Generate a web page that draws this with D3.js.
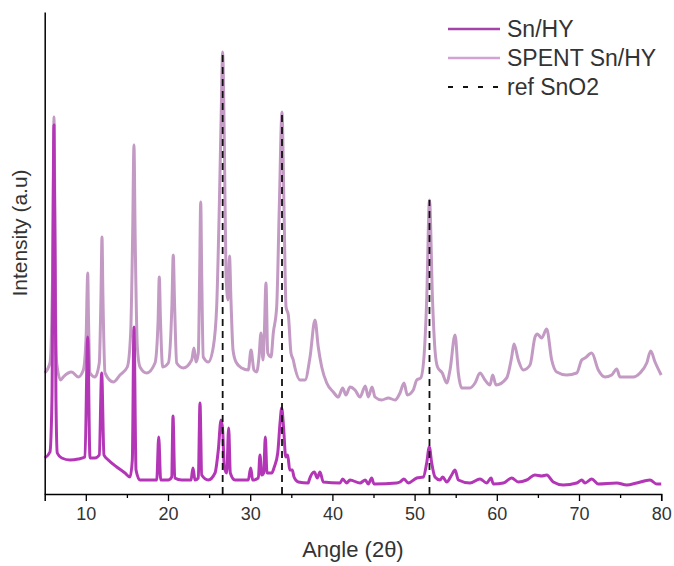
<!DOCTYPE html>
<html><head><meta charset="utf-8">
<script src="https://cdn.jsdelivr.net/npm/d3@7"></script>
<style>
html,body{margin:0;padding:0;background:#fff;}
svg{display:block;font-family:"Liberation Sans",Arial,sans-serif;}
</style></head>
<body>
<svg id="chart" width="674" height="566"></svg>
<script>
// Angle (2θ) and intensity (a.u.)
const spentAngle = [5.0,5.64,5.85,5.95,6.05,6.13,6.22,6.34,6.46,6.95,7.26,8.28,9.09,9.70,10.05,10.15,10.23,10.33,10.51,11.12,11.64,11.85,11.97,12.08,12.34,13.35,14.16,15.05,15.46,15.70,15.86,16.0,16.27,16.59,17.41,18.42,18.80,18.94,19.08,19.36,20.04,20.48,20.64,20.80,21.06,21.86,22.88,23.16,23.41,23.69,23.85,23.98,24.10,24.29,24.90,25.51,25.92,26.24,26.45,26.65,26.85,27.06,27.30,27.48,27.66,27.91,28.27,28.97,29.77,30.10,30.46,30.79,31.07,31.31,31.56,31.72,31.92,32.13,32.53,32.81,33.22,33.54,33.87,34.11,34.36,34.64,34.96,35.24,35.45,36.06,36.67,37.28,37.88,38.28,38.70,39.31,40.11,40.72,41.25,41.65,42.14,42.75,43.36,44.00,44.37,44.82,45.18,46.00,46.80,47.62,48.22,48.71,49.11,49.84,50.26,50.74,51.14,51.47,51.81,52.18,52.48,52.79,53.37,53.91,54.31,54.92,55.32,55.73,56.74,57.35,57.96,58.56,59.17,59.50,59.90,61.20,61.81,62.09,62.62,63.22,64.04,64.65,64.93,65.46,66.07,66.68,67.29,68.50,69.72,70.33,70.73,71.55,72.35,73.16,73.98,74.59,74.99,76.61,77.42,78.24,78.72,79.25,80.0];
const spentIntensity = [121,131,170,215,300,377,300,170,131,114,117,122,117,124,160,200,221,175,121,117,131,200,257,200,121,112,119,127,161,260,349,260,147,127,121,131,175,217,175,127,131,190,239,190,131,126,134,146,132,141,220,292,220,137,132,147,187,287,371,442,354,219,194,238,194,144,132,126,124,144,124,122,137,161,134,161,211,141,137,161,187,287,382,287,187,179,141,134,126,114,114,137,174,147,127,111,102,97,106,99,107,104,97,108,97,107,97,94,96,94,101,111,99,104,114,116,137,194,294,194,144,127,121,111,124,159,121,106,106,111,121,114,109,119,109,116,137,150,134,124,129,157,160,156,165,134,122,119,121,134,136,141,124,117,119,125,117,117,121,131,143,132,119];

const snAngle = [5.0,5.64,5.88,6.13,6.37,6.53,7.07,8.08,9.09,9.90,10.23,10.51,11.12,11.64,11.93,12.21,12.74,13.76,14.77,15.38,15.66,15.86,16.11,16.59,17.81,18.63,18.87,19.11,20.04,20.45,20.61,20.82,21.67,22.80,23.04,23.28,23.69,23.89,24.10,24.90,25.72,26.12,26.45,26.65,26.85,27.14,27.38,27.58,28.15,29.77,30.06,30.30,30.99,31.19,31.40,31.64,31.84,32.04,32.62,32.93,33.35,33.63,33.83,34.08,34.32,34.56,34.81,35.12,35.33,35.85,37.07,37.18,37.80,38.16,38.49,38.89,40.92,41.25,41.74,42.14,43.36,44.00,44.37,44.78,45.06,47.82,48.22,48.71,49.23,50.26,51.06,51.47,51.79,52.08,52.48,53.09,53.42,53.91,54.51,54.92,55.32,56.74,57.96,58.77,59.30,59.58,60.79,61.81,62.62,63.64,64.65,65.46,66.07,66.87,68.09,69.72,70.33,70.73,71.55,72.35,74.59,75.81,77.02,78.64,79.45,80.0];
const snIntensity = [36,42,94,369,94,41,36,34,35,37,157,36,36,39,121,39,34,27,21,17,34,167,24,14,14,14,57,14,14,17,78,16,14,14,26,14,16,91,19,14,21,44,74,64,27,21,66,21,14,14,26,14,16,39,19,21,57,21,21,27,41,71,86,64,37,39,24,24,17,12,11,14,22,16,22,12,11,15,11,14,11,14,10,16,10,11,12,15,11,16,17,31,47,31,17,14,17,12,19,24,14,11,15,11,16,10,11,16,12,14,19,18,19,12,9,11,14,11,15,10,11,9,11,14,10,10];

const refAngle = [26.65, 33.87, 51.81];
const refIntensity = [442, 382, 294];

const xTicks = [10,20,30,40,50,60,70,80];
const xMinorTicks = [15,25,35,45,55,65,75];
const seriesNames = ["Sn/HY", "SPENT Sn/HY", "ref SnO2"];

const svg = d3.select("#chart");
const m = {left:44.7, right:661.2, top:12, bottom:494};
const x = d3.scaleLinear().domain([5,80]).range([m.left, m.right]);
const y = d3.scaleLinear().domain([0,482]).range([m.bottom, m.top]);

const colSn = "#b336b6", colSpent = "#c39ac4";

const line = d3.line().x(d=>x(d[0])).y(d=>y(d[1])).curve(d3.curveMonotoneX);
const spent = spentAngle.map((a,i)=>[a, spentIntensity[i]]);
const sn = snAngle.map((a,i)=>[a, snIntensity[i]]);

svg.append("path").datum(spent).attr("d", line).attr("fill","none")
  .attr("stroke", colSpent).attr("stroke-width", 3).attr("stroke-linejoin","round");
svg.append("path").datum(sn).attr("d", line).attr("fill","none")
  .attr("stroke", colSn).attr("stroke-width", 3).attr("stroke-linejoin","round");

svg.selectAll("line.ref").data(refAngle).enter().append("line")
  .attr("class","ref")
  .attr("x1", d=>x(d)).attr("x2", d=>x(d))
  .attr("y1", y(0)).attr("y2", (d,i)=>y(refIntensity[i]))
  .attr("stroke","#111").attr("stroke-width",1.8).attr("stroke-dasharray","7,5");

// axes
const xAxis = d3.axisBottom(x).tickValues(xTicks).tickSize(7).tickPadding(6).tickFormat(d3.format("d"));
const gx = svg.append("g").attr("transform",`translate(0,${m.bottom})`).call(xAxis);
gx.select(".domain").attr("stroke","#000").attr("stroke-width",1.5);
gx.selectAll(".tick line").attr("stroke","#000").attr("stroke-width",1.3);
gx.selectAll(".tick text").attr("font-size",18).attr("fill","#333")
  .attr("font-family","'Liberation Sans',Arial,sans-serif");
const gxm = svg.append("g").attr("transform",`translate(0,${m.bottom})`)
  .call(d3.axisBottom(x).tickValues(xMinorTicks).tickSize(4).tickFormat(""));
gxm.select(".domain").remove();
gxm.selectAll(".tick line").attr("stroke","#000").attr("stroke-width",1.3);

const gy = svg.append("g").attr("transform",`translate(${m.left},0)`)
  .call(d3.axisLeft(y).tickValues([]).tickSizeOuter(0));
gy.select(".domain").attr("stroke","#000").attr("stroke-width",1.5);

svg.append("text").attr("x", (m.left+m.right)/2).attr("y", 557)
  .attr("text-anchor","middle").attr("font-size",22).attr("fill","#333").text("Angle (2θ)");
svg.append("text").attr("transform","translate(27,233) rotate(-90)")
  .attr("text-anchor","middle").attr("font-size",21).attr("fill","#333").text("Intensity (a.u)");

// legend
const lg = svg.append("g");
const rows = [
  {name:seriesNames[0], color:"#a544a8", dash:null},
  {name:seriesNames[1], color:"#d2a2d4", dash:null},
  {name:seriesNames[2], color:"#111", dash:"5,10"}
];
rows.forEach((r,i)=>{
  const yy = 29 + i*29;
  lg.append("line").attr("x1",448).attr("x2",500).attr("y1",yy).attr("y2",yy)
    .attr("stroke",r.color).attr("stroke-width", r.dash?1.8:2.5)
    .attr("stroke-dasharray", r.dash);
  lg.append("text").attr("x",507).attr("y",yy).attr("dy","0.35em")
    .attr("font-size",23).attr("fill","#333").text(r.name);
});
</script>
</body></html>
